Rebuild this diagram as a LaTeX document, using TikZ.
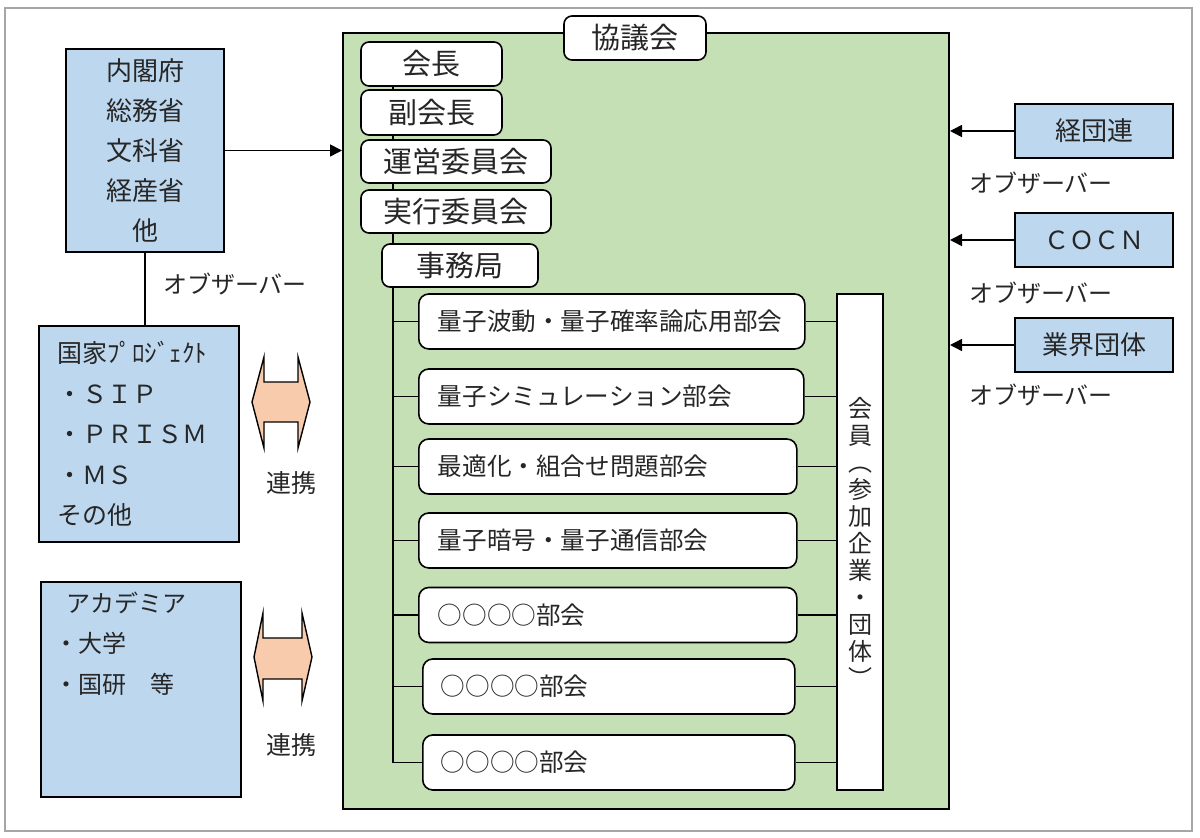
\documentclass[tikz,border=0pt]{standalone}
\usepackage{fontspec}
\setmainfont{Noto Sans CJK JP}
\usetikzlibrary{arrows.meta}

\definecolor{kyogiGreen}{HTML}{C5E0B4}
\definecolor{govBlue}{HTML}{BDD7EE}
\definecolor{renkeiOrange}{HTML}{F8CBAD}

\tikzset{
  govbox/.style={draw, line width=0.8pt, fill=govBlue, inner sep=0pt},
  orgbox/.style={draw, line width=0.8pt, fill=white, rounded corners=4pt, inner sep=0pt, font=\fontsize{14.5}{17}\selectfont},
  bukai/.style={draw, line width=0.8pt, fill=white, rounded corners=5pt, anchor=west, inner xsep=9.5pt, inner ysep=0pt, minimum height=27.5pt, align=left, font=\fontsize{12.3}{15}\selectfont},
  memberbox/.style={draw, line width=0.8pt, fill=white, inner sep=0pt, align=center, font=\fontsize{12}{13.5}\selectfont},
  obs/.style={font=\fontsize{12}{14}\selectfont},
  arr/.style={-{Triangle[length=6pt,width=6pt]}, line width=0.8pt},
  link/.style={line width=0.8pt},
  renkeiarrow/.style={draw, line width=0.7pt, fill=renkeiOrange, line join=miter},
}

\begin{document}
\begin{tikzpicture}[x=0.5pt,y=0.5pt,yscale=-1,every node/.append style={text=black!85}]
        \useasboundingbox (0,0) rectangle (1200,838);
        % outer frame
        \draw[gray!70, line width=0.6pt] (5,8) rectangle (1192,831);

        % council frame
        \node[draw, line width=1pt, fill=kyogiGreen, minimum width=303pt, minimum height=388pt, inner sep=0pt] (council) at (646,421) {};
        \node[orgbox, minimum width=71pt, minimum height=22pt] (kyogikai) at (635,38) {協議会};

        % officers
        \node[orgbox, minimum width=70.5pt, minimum height=22pt] (kaicho) at (431.5,64) {会長};
        \node[orgbox, minimum width=70.5pt, minimum height=22.5pt] (fukukaicho) at (431.5,112.5) {副会長};
        \node[orgbox, minimum width=95pt, minimum height=21.5pt] (unei) at (456,161.5) {運営委員会};
        \node[orgbox, minimum width=95pt, minimum height=21.5pt] (jikko) at (456,211.5) {実行委員会};
        \node[orgbox, minimum width=78pt, minimum height=21.5pt] (jimu) at (460,265.5) {事務局};

        % subcommittees
        \node[bukai, text width=174pt] (bu1) at (418,321.5) {量子波動・量子確率論応用部会};
        \node[bukai, text width=173.5pt] (bu2) at (418,396.5) {量子シミュレーション部会};
        \node[bukai, text width=170pt] (bu3) at (418,466.5) {最適化・組合せ問題部会};
        \node[bukai, text width=170pt] (bu4) at (418,540.5) {量子暗号・量子通信部会};
        \node[bukai, text width=170pt] (bu5) at (418,615) {○○○○部会};
        \node[bukai, text width=168pt, inner xsep=9pt] (bu6) at (422,686.5) {○○○○部会};
        \node[bukai, text width=168pt, inner xsep=9pt] (bu7) at (422,762.5) {○○○○部会};

        % members
        \node[memberbox, minimum width=23pt, minimum height=248pt] (member) at (860,542)
          {会\\員\\︵\\参\\加\\企\\業\\・\\団\\体\\︶};

        % spine of the council
        \coordinate (spine) at (393,0);
        \draw[link] (kaicho.south -| spine) -- (fukukaicho.north -| spine);
        \draw[link] (fukukaicho.south -| spine) -- (unei.north -| spine);
        \draw[link] (unei.south -| spine) -- (jikko.north -| spine);
        \draw[link] (jikko.south -| spine) -- (jimu.north -| spine);
        \draw[link] (jimu.south -| spine) |- (bu7.west);
        \foreach \i in {1,...,6}
          \draw[link] (bu\i.west -| spine) -- (bu\i.west);
        \foreach \i in {1,...,7}
          \draw[link] (bu\i.east) -- (bu\i.east -| member.west);

        % government
        \node[govbox, minimum width=79pt, minimum height=101.5pt, align=center, font=\fontsize{13}{20}\selectfont] (gov) at (145,150.5)
          {内閣府\\総務省\\文科省\\経産省\\他};
        \draw[arr] (gov.east) -- (gov.east -| council.west);
        \node[obs] (obsgov) at (235,284) {オブザーバー};

        % national projects
        \node[govbox, text width=82pt, inner xsep=9pt, minimum height=108pt, align=left, font=\fontsize{12.5}{20.25}\selectfont] (proj) at (139,434)
          {国家ﾌﾟﾛｼﾞｪｸﾄ\\・ＳＩＰ\\・ＰＲＩＳＭ\\・ＭＳ\\その他};
        \draw[link] (gov.south) -- (gov.south |- proj.north);

        % academia
        \node[govbox, minimum width=100pt, minimum height=107.5pt] (acad) at (141,689.5) {};
        \node[anchor=north west, inner sep=0pt, align=left, font=\fontsize{12}{20.25}\selectfont, xshift=7pt, yshift=-5pt] (acadtext) at (acad.north west)
          {\hspace{6pt}アカデミア\\・大学\\・国研　等};

        % cooperation
        \draw[renkeiarrow] (252,402) -- (264,357) -- (264,382) -- (298,382) -- (298,357) -- (310,402)
          -- (298,448) -- (298,422) -- (264,422) -- (264,448) -- cycle;
        \node[font=\fontsize{12.5}{14}\selectfont] (renkei1) at (291,483) {連携};
        \draw[renkeiarrow] (254,657) -- (263,613) -- (263,638) -- (302,638) -- (302,613) -- (312,657)
          -- (302,701) -- (302,679) -- (263,679) -- (263,701) -- cycle;
        \node[font=\fontsize{12.5}{14}\selectfont] (renkei2) at (291,745) {連携};

        % observers on the right
        \node[govbox, minimum width=79pt, minimum height=27pt, font=\fontsize{13}{15}\selectfont] (keidanren) at (1094,131) {経団連};
        \node[govbox, minimum width=79pt, minimum height=27pt, font=\fontsize{12.5}{15}\selectfont] (cocn) at (1094,240) {ＣＯＣＮ};
        \node[govbox, minimum width=79pt, minimum height=27pt, font=\fontsize{13}{15}\selectfont] (gyokai) at (1094,345) {業界団体};
        \draw[arr] (keidanren.west) -- (keidanren.west -| council.east);
        \draw[arr] (cocn.west) -- (cocn.west -| council.east);
        \draw[arr] (gyokai.west) -- (gyokai.west -| council.east);
        \node[obs] (obskei) at (1041,183) {オブザーバー};
        \node[obs] (obscocn) at (1041,293) {オブザーバー};
        \node[obs] (obsgyo) at (1041,395) {オブザーバー};

\end{tikzpicture}
\end{document}
